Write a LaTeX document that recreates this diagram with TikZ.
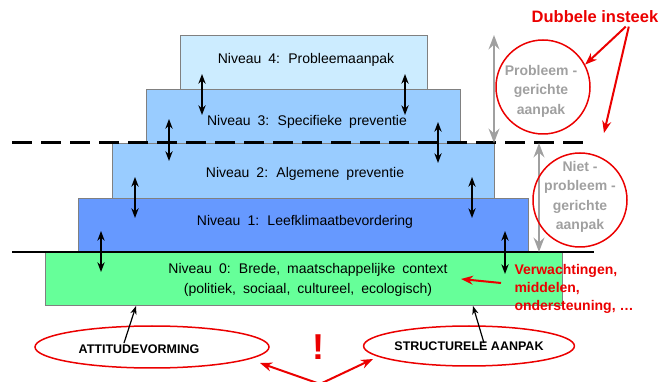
\documentclass[tikz,border=0pt]{standalone}
\usepackage{fontspec}
\setmainfont{Liberation Sans}
\newfontfamily\lvlfont{Liberation Sans}[WordSpace=1.8]
\usetikzlibrary{arrows.meta,shapes.geometric}

\definecolor{lvlfour}{RGB}{204,236,255}
\definecolor{lvlmid}{RGB}{153,204,255}
\definecolor{lvlone}{RGB}{102,153,255}
\definecolor{lvlzero}{RGB}{102,255,153}
\definecolor{mark}{RGB}{235,0,0}
\definecolor{soft}{RGB}{160,160,160}

\tikzset{
  lvl/.style={draw=gray, line width=1pt, inner sep=0pt, anchor=north west},
  lvltext/.style={font=\lvlfont\fontsize{14}{19.5}\selectfont, align=center},
  updown/.style={<->, line width=1.5pt},
  greyarrow/.style={<->, draw=soft, line width=2.5pt},
  greytext/.style={font=\fontsize{14}{19.5}\selectfont\bfseries, text=soft, align=center},
  ring/.style={circle, draw=mark, line width=1.5pt, minimum size=94pt, inner sep=0pt},
  oval/.style={ellipse, draw=mark, line width=1.5pt, inner sep=0pt},
  redarrow/.style={->, draw=mark, line width=2pt},
  redtext/.style={font=\fontsize{14}{18}\selectfont\bfseries, text=mark, align=left},
  capstext/.style={font=\fontsize{12.5}{15}\selectfont\bfseries}
}

\begin{document}
\begin{tikzpicture}[>=Stealth, x=1pt, y=-1pt]
  \useasboundingbox (0,0) rectangle (662,382);

  % the five levels
  \node[lvl, fill=lvlzero, minimum width=517pt, minimum height=53pt] (n0) at (45,252) {};
  \node[lvl, fill=lvlone, minimum width=450pt, minimum height=54pt] (n1) at (78,198) {};
  \node[lvl, fill=lvlmid, minimum width=382pt, minimum height=55pt] (n2) at (112,143) {};
  \node[lvl, fill=lvlmid, minimum width=314pt, minimum height=54pt] (n3) at (146,89) {};
  \node[lvl, fill=lvlfour, minimum width=247pt, minimum height=54pt] (n4) at (180,35) {};

  \node[lvltext] (t4) at (306,60) {Niveau 4: Probleemaanpak};
  \node[lvltext] (t3) at (307,122) {Niveau 3: Specifieke preventie};
  \node[lvltext] (t2) at (305,174) {Niveau 2: Algemene preventie};
  \node[lvltext] (t1) at (305,222) {Niveau 1: Leefklimaatbevordering};
  \node[lvltext] (t0) at (308,280) {Niveau 0: Brede, maatschappelijke context\\(politiek, sociaal, cultureel, ecologisch)};

  % separating lines
  \coordinate (dl) at (12,143);
  \coordinate (dr) at (589,143);
  \coordinate (bl) at (12,252);
  \coordinate (br) at (594,252);
  \draw[line width=3pt, dash pattern=on 20pt off 9pt] (dl) -- (dr);
  \draw[line width=2.5pt] (bl) -- (br);

  % arrows between the levels
  \foreach \n/\x/\ya/\yb in {a/202/74/115, b/405/74/115, c/169/119/161, d/438/122/163,
                             e/135/177/218, f/472/177/218, g/101/231/272, h/505/231/274} {
    \coordinate (\n1) at (\x,\ya);
    \coordinate (\n2) at (\x,\yb);
    \draw[updown] (\n1) -- (\n2);
  }

  % the two approaches
  \coordinate (ga) at (494,35);
  \coordinate (gb) at (494,143);
  \coordinate (gc) at (539,143);
  \coordinate (gd) at (539,252);
  \draw[greyarrow] (ga) -- (gb);
  \draw[greyarrow] (gc) -- (gd);

  \node[ring] (pc) at (543,87) {};
  \node[greytext] (pct) at (541,91) {Probleem -\\gerichte\\aanpak};
  \node[ring] (nc) at (580,200) {};
  \node[greytext] (nct) at (580,197) {Niet -\\probleem -\\gerichte\\aanpak};

  \node[font=\fontsize{16.5}{20}\selectfont\bfseries, text=mark] (di) at (595,17) {Dubbele insteek};
  \coordinate (dt) at (604,133);
  \draw[redarrow] ([xshift=-36pt]di.south east) -- (pc.28);
  \draw[redarrow] ([xshift=-33pt]di.south east) -- (dt);

  % expectations
  \node[redtext, anchor=west] (vw) at (511,289) {Verwachtingen,\\middelen,\\ondersteuning, \dots};
  \coordinate (ctx) at (461,279);
  \draw[redarrow] ([xshift=-10pt,yshift=6pt]vw.west) -- (ctx);

  % bottom
  \node[oval, minimum width=234pt, minimum height=42pt] (att) at (152,347) {};
  \node[capstext] (attl) at (139,349) {ATTITUDEVORMING};
  \node[oval, minimum width=202pt, minimum height=40pt, capstext] (str) at (469,346) {STRUCTURELE AANPAK};

  \draw[->, line width=1.2pt] ([xshift=-15pt,yshift=-2pt]attl.north) -- ([xshift=91pt]n0.south west);
  \draw[->, line width=1.2pt] ([xshift=15pt,yshift=-2pt]str.center |- attl.north) -- ([xshift=428pt]n0.south west);

  \node[font=\fontsize{36}{36}\selectfont\bfseries, text=mark] (bang) at (318,347) {!};
  \coordinate (bot) at (320,384);
  \coordinate (attin) at (260,363);
  \coordinate (strin) at (373,359);
  \draw[redarrow] (bot) -- (attin);
  \draw[redarrow] (bot) -- (strin);
\end{tikzpicture}
\end{document}
